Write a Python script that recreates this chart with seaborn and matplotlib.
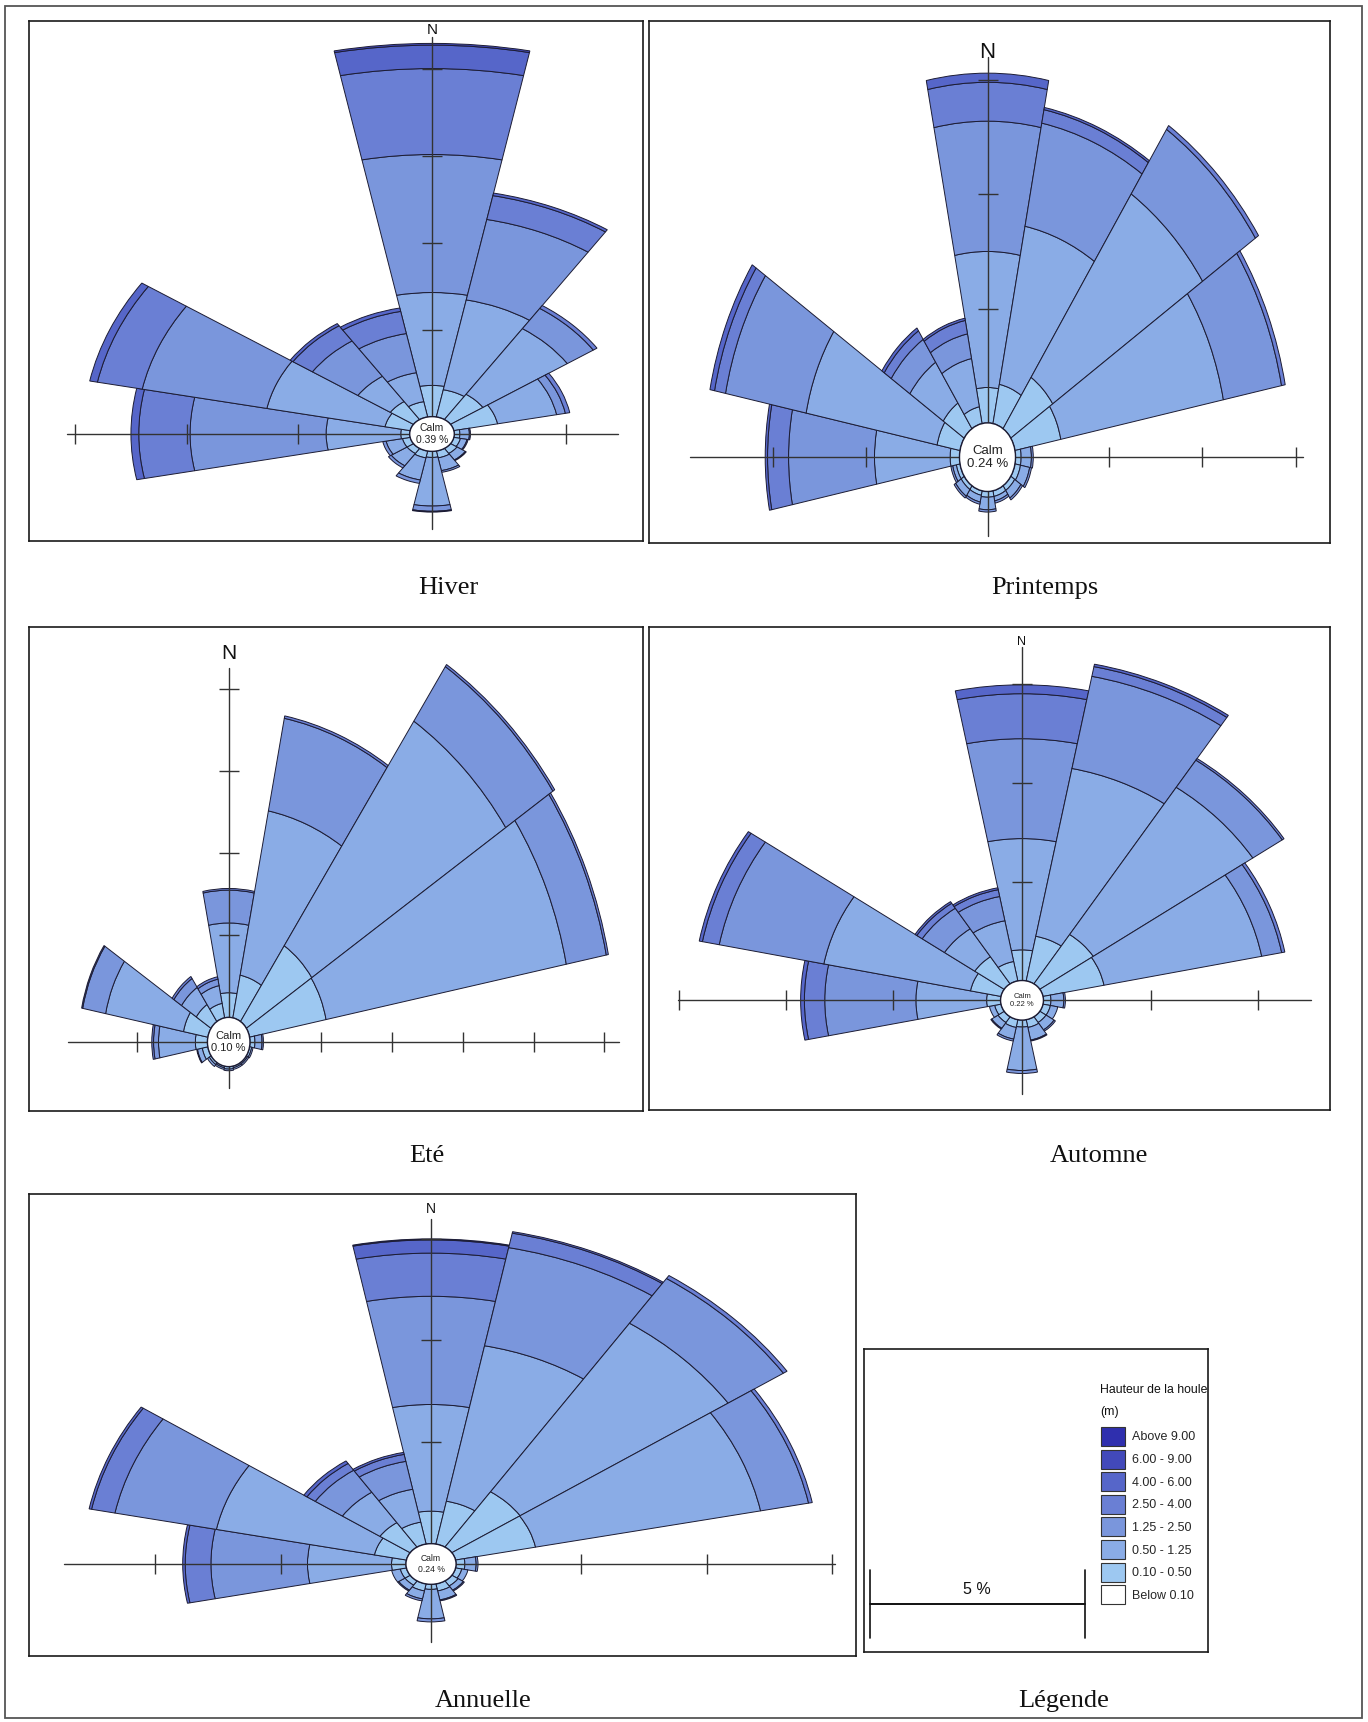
import numpy as np
import pandas as pd
import seaborn as sns
import matplotlib.pyplot as plt
from matplotlib.patches import Wedge, Ellipse, Rectangle, Patch
from matplotlib.font_manager import FontProperties

sns.set_theme(style="white")
plt.rcParams['font.family'] = ['Liberation Sans', 'DejaVu Sans']

# --- données (fréquences en %, par direction et par classe de hauteur) ---
DIRECTIONS = ["N", "NNE", "NE", "ENE", "E", "ESE", "SE", "SSE",
              "S", "SSW", "SW", "WSW", "W", "WNW", "NW", "NNW"]
CLASSES = ["0.10 - 0.50", "0.50 - 1.25", "1.25 - 2.50",
           "2.50 - 4.00", "4.00 - 6.00", "6.00 - 9.00"]
LEGEND_LABELS = ["Above 9.00", "6.00 - 9.00", "4.00 - 6.00", "2.50 - 4.00",
                 "1.25 - 2.50", "0.50 - 1.25", "0.10 - 0.50", "Below 0.10"]
LEGEND_TITLE = ["Hauteur de la houle", "(m)"]
CAPTIONS = ["Hiver", "Printemps", "Eté", "Automne", "Annuelle"]
CALM = [0.39, 0.24, 0.10, 0.22, 0.24]
TICK_PCT = 2.0          # une graduation = 2 %
SCALE_LABEL = "5 %"

HIVER = [
    [0.72, 2.14, 3.18, 1.98, 0.54, 0.04],
    [0.64, 2.11, 1.89, 0.56, 0.06, 0.00],
    [0.70, 1.82, 0.56, 0.08, 0.00, 0.00],
    [0.80, 1.08, 0.16, 0.08, 0.00, 0.00],
    [0.10, 0.17, 0.02, 0.00, 0.00, 0.00],
    [0.12, 0.12, 0.02, 0.00, 0.00, 0.00],
    [0.14, 0.18, 0.02, 0.00, 0.00, 0.00],
    [0.16, 0.30, 0.04, 0.00, 0.00, 0.00],
    [0.14, 1.12, 0.12, 0.02, 0.00, 0.00],
    [0.16, 0.52, 0.08, 0.00, 0.00, 0.00],
    [0.14, 0.34, 0.06, 0.00, 0.00, 0.00],
    [0.14, 0.30, 0.06, 0.00, 0.00, 0.00],
    [0.16, 1.34, 2.44, 0.92, 0.14, 0.00],
    [0.46, 2.16, 2.28, 0.82, 0.14, 0.00],
    [0.50, 0.70, 0.98, 0.42, 0.06, 0.00],
    [0.36, 0.68, 0.92, 0.52, 0.08, 0.00],
]
PRINTEMPS = [
    [0.62, 2.38, 2.28, 0.68, 0.16, 0.00],
    [0.70, 2.82, 1.84, 0.24, 0.04, 0.00],
    [1.08, 3.86, 1.36, 0.08, 0.00, 0.00],
    [1.00, 3.55, 1.27, 0.08, 0.00, 0.00],
    [0.12, 0.22, 0.04, 0.00, 0.00, 0.00],
    [0.12, 0.20, 0.04, 0.00, 0.00, 0.00],
    [0.10, 0.16, 0.04, 0.00, 0.00, 0.00],
    [0.10, 0.08, 0.04, 0.00, 0.00, 0.00],
    [0.10, 0.22, 0.04, 0.00, 0.00, 0.00],
    [0.08, 0.12, 0.04, 0.00, 0.00, 0.00],
    [0.08, 0.14, 0.04, 0.00, 0.00, 0.00],
    [0.08, 0.08, 0.04, 0.00, 0.00, 0.00],
    [0.20, 1.62, 1.84, 0.45, 0.05, 0.00],
    [0.50, 2.86, 1.76, 0.24, 0.10, 0.00],
    [0.54, 0.86, 0.48, 0.18, 0.06, 0.00],
    [0.30, 0.86, 0.44, 0.24, 0.04, 0.00],
]
ETE = [
    [0.60, 1.70, 0.80, 0.04, 0.00, 0.00],
    [1.06, 4.08, 2.30, 0.06, 0.00, 0.00],
    [2.22, 6.58, 1.60, 0.06, 0.00, 0.00],
    [2.20, 6.91, 1.15, 0.06, 0.00, 0.00],
    [0.14, 0.20, 0.04, 0.00, 0.00, 0.00],
    [0.06, 0.04, 0.00, 0.00, 0.00, 0.00],
    [0.04, 0.04, 0.00, 0.00, 0.00, 0.00],
    [0.04, 0.04, 0.00, 0.00, 0.00, 0.00],
    [0.06, 0.04, 0.00, 0.00, 0.00, 0.00],
    [0.04, 0.04, 0.00, 0.00, 0.00, 0.00],
    [0.06, 0.06, 0.00, 0.00, 0.00, 0.00],
    [0.16, 0.14, 0.02, 0.00, 0.00, 0.00],
    [0.34, 1.04, 0.14, 0.05, 0.00, 0.00],
    [0.70, 2.24, 0.66, 0.03, 0.00, 0.00],
    [0.50, 0.50, 0.26, 0.06, 0.00, 0.00],
    [0.36, 0.44, 0.16, 0.06, 0.00, 0.00],
]
AUTOMNE = [
    [0.62, 2.25, 2.02, 0.91, 0.18, 0.00],
    [0.92, 3.46, 1.90, 0.20, 0.05, 0.00],
    [1.20, 3.58, 0.66, 0.04, 0.00, 0.00],
    [1.16, 3.00, 0.38, 0.06, 0.00, 0.00],
    [0.14, 0.24, 0.03, 0.00, 0.00, 0.00],
    [0.14, 0.14, 0.00, 0.00, 0.00, 0.00],
    [0.14, 0.18, 0.03, 0.00, 0.00, 0.00],
    [0.16, 0.26, 0.02, 0.00, 0.00, 0.00],
    [0.14, 0.88, 0.06, 0.00, 0.00, 0.00],
    [0.16, 0.24, 0.04, 0.00, 0.00, 0.00],
    [0.14, 0.14, 0.02, 0.00, 0.00, 0.00],
    [0.12, 0.10, 0.00, 0.00, 0.00, 0.00],
    [0.26, 1.32, 1.70, 0.38, 0.07, 0.00],
    [0.58, 2.79, 1.99, 0.32, 0.06, 0.00],
    [0.66, 0.68, 0.50, 0.12, 0.04, 0.00],
    [0.40, 0.84, 0.50, 0.14, 0.04, 0.00],
]
ANNUELLE = [
    [0.64, 2.10, 2.13, 0.85, 0.26, 0.02],
    [0.86, 3.12, 1.97, 0.29, 0.03, 0.00],
    [1.31, 3.99, 1.06, 0.07, 0.00, 0.00],
    [1.30, 3.66, 0.78, 0.06, 0.00, 0.00],
    [0.14, 0.18, 0.03, 0.00, 0.00, 0.00],
    [0.10, 0.10, 0.00, 0.00, 0.00, 0.00],
    [0.12, 0.10, 0.02, 0.00, 0.00, 0.00],
    [0.14, 0.18, 0.02, 0.00, 0.00, 0.00],
    [0.10, 0.58, 0.06, 0.00, 0.00, 0.00],
    [0.14, 0.16, 0.04, 0.00, 0.00, 0.00],
    [0.10, 0.12, 0.02, 0.00, 0.00, 0.00],
    [0.10, 0.14, 0.00, 0.00, 0.00, 0.00],
    [0.23, 1.34, 1.54, 0.41, 0.04, 0.00],
    [0.52, 2.57, 1.65, 0.38, 0.04, 0.00],
    [0.58, 0.72, 0.52, 0.16, 0.06, 0.00],
    [0.44, 0.66, 0.56, 0.14, 0.04, 0.00],
]
SEASONS = [HIVER, PRINTEMPS, ETE, AUTOMNE, ANNUELLE]

# --- couleurs ---
CLASS_COLORS = sns.color_palette(["#9DC8F1", "#8AACE6", "#7A96DC",
                                  "#6A7FD4", "#5666C9", "#4249BA"])
LEGEND_COLORS = ["#2F2FAE", "#4249BA", "#5666C9", "#6A7FD4",
                 "#7A96DC", "#8AACE6", "#9DC8F1", "#FFFFFF"]
EDGE = "#1c1c34"
AXIS = "#333333"

# --- mise en page (pixels de la figure) ---
FIG_W, FIG_H = 1368, 1722
PANEL_BOX = [(29, 21, 643, 541), (649, 21, 1330, 543), (29, 627, 643, 1111),
             (649, 627, 1330, 1110), (29, 1194, 856, 1656)]
CENTER = [(432, 434), (987.5, 457.2), (228.7, 1042), (1022, 1000.3), (431, 1564)]
PX_PER_TICK = [(111.5, 86.8), (93.4, 114.3), (70.9, 82.1), (107.2, 98.9), (125.4, 101.6)]
HOLE = [0.2, 0.3, 0.3, 0.2, 0.2]
H_AXIS = [(-3.27, 1.67), (-3.18, 3.38), (-2.27, 5.5), (-3.21, 2.70), (-2.93, 3.22)]
V_AXIS = [(-1.09, 4.57), (-0.69, 3.5), (-0.56, 4.56), (-0.95, 3.57), (-0.77, 3.40)]
N_POS = [4.65, 3.54, 4.73, 3.62, 3.49]
N_SIZE = [11, 16, 15, 9, 10]
CALM_SIZE = [7.5, 9.5, 8, 5.5, 6.2]
CAPTION_XY = [(448, 588), (1045, 588), (427, 1156), (1099, 1156), (483, 1701)]
LEGEND_BOX = (864, 1349, 1208, 1652)
SERIF = ['Liberation Serif', 'DejaVu Serif']
SANS = ['Liberation Sans', 'DejaVu Sans']


def fig_rect(box):
    L, T, R, B = box
    return [L / FIG_W, 1 - B / FIG_H, (R - L) / FIG_W, (B - T) / FIG_H]


def framed_axes(fig, box):
    ax = fig.add_axes(fig_rect(box))
    ax.set_xticks([])
    ax.set_yticks([])
    ax.set_facecolor("white")
    for sp in ax.spines.values():
        sp.set_visible(True)
        sp.set_color("#1a1a1a")
        sp.set_linewidth(1.2)
    return ax


def draw_rose(ax, freq, calm, hole, hax, vax, n_pos, n_size, calm_size):
    df = pd.DataFrame(freq, index=DIRECTIONS, columns=CLASSES) / TICK_PCT
    outer = df.cumsum(axis=1) + hole

    for i, d in enumerate(DIRECTIONS):
        mid = 90 - 22.5 * i          # cap -> angle mathématique
        for j, c in enumerate(CLASSES):
            w = df.loc[d, c]
            if w <= 0:
                continue
            ax.add_patch(Wedge((0, 0), outer.loc[d, c], mid - 11.25, mid + 11.25,
                               width=w, facecolor=CLASS_COLORS[j], edgecolor=EDGE,
                               linewidth=0.7, zorder=2))

    # axes en croix avec graduations
    ax.plot(hax, [0, 0], color=AXIS, lw=1.0, zorder=3)
    ax.plot([0, 0], vax, color=AXIS, lw=1.0, zorder=3)
    hticks = [s * (hole + k) for s in (-1, 1) for k in range(1, 8)
              if hax[0] - 0.01 <= s * (hole + k) <= hax[1] + 0.01]
    vticks = [hole + k for k in range(1, 8) if hole + k <= vax[1] + 0.01]
    ax.plot(hticks, np.zeros(len(hticks)), ls="none", marker="|", ms=14,
            mew=1.0, color=AXIS, zorder=3)
    ax.plot(np.zeros(len(vticks)), vticks, ls="none", marker="_", ms=15,
            mew=1.0, color=AXIS, zorder=3)

    # calme
    ax.add_patch(Ellipse((0, 0), 2 * hole, 2 * hole, facecolor="white",
                         edgecolor=EDGE, linewidth=1.0, zorder=4))
    ax.text(0, 0, f"Calm\n{calm:.2f} %", ha="center", va="center",
            fontsize=calm_size, linespacing=1.15, color="#222222", zorder=5)
    ax.text(0, n_pos, "N", ha="center", va="center", fontsize=n_size,
            color="#111111", zorder=5)


fig = plt.figure(figsize=(FIG_W / 100, FIG_H / 100), dpi=100)
fig.patch.set_facecolor("white")

for k, freq in enumerate(SEASONS):
    L, T, R, B = PANEL_BOX[k]
    cx, cy = CENTER[k]
    sx, sy = PX_PER_TICK[k]
    ax = framed_axes(fig, PANEL_BOX[k])
    ax.set_xlim((L - cx) / sx, (R - cx) / sx)
    ax.set_ylim((cy - B) / sy, (cy - T) / sy)
    draw_rose(ax, freq, CALM[k], HOLE[k], H_AXIS[k], V_AXIS[k],
              N_POS[k], N_SIZE[k], CALM_SIZE[k])
    x, y = CAPTION_XY[k]
    fig.text(x / FIG_W, 1 - y / FIG_H, CAPTIONS[k], ha="center", va="center",
             fontsize=19, family=SERIF, color="#111111")

# --- légende ---
L, T, R, B = LEGEND_BOX
axl = framed_axes(fig, LEGEND_BOX)
axl.set_xlim(L, R)
axl.set_ylim(B, T)
axl.plot([870, 1085], [1604, 1604], color="#111111", lw=1.4)
axl.plot([870, 870], [1570, 1638], color="#111111", lw=1.2)
axl.plot([1085, 1085], [1570, 1638], color="#111111", lw=1.2)
axl.text(977, 1590, SCALE_LABEL, ha="center", va="center", fontsize=11.5,
         family=SANS, color="#111111")

for line, y in zip(LEGEND_TITLE, (1390, 1412)):
    axl.text(1100, y, line, ha="left", va="center", fontsize=8.8,
             family=SANS, color="#111111")

handles = [Patch(facecolor=c, edgecolor="#333333", linewidth=0.8) for c in LEGEND_COLORS]
axl.legend(handles, LEGEND_LABELS, loc="upper left",
           bbox_to_anchor=((1101 - L) / (R - L), (B - 1427) / (B - T)),
           frameon=False, prop=FontProperties(family=SANS, size=9),
           handlelength=1.9, handleheight=1.96, labelspacing=0.29,
           handletextpad=0.6, borderpad=0, borderaxespad=0)

fig.text(1064 / FIG_W, 1 - 1701 / FIG_H, "Légende", ha="center", va="center",
         fontsize=19, family=SERIF, color="#111111")

# cadre général
fig.add_artist(Rectangle((5 / FIG_W, 1 - 1718 / FIG_H), 1357 / FIG_W, 1712 / FIG_H,
                         transform=fig.transFigure, fill=False,
                         edgecolor="#555555", linewidth=1.3))

fig.savefig("out.png", dpi=100, facecolor="white")
